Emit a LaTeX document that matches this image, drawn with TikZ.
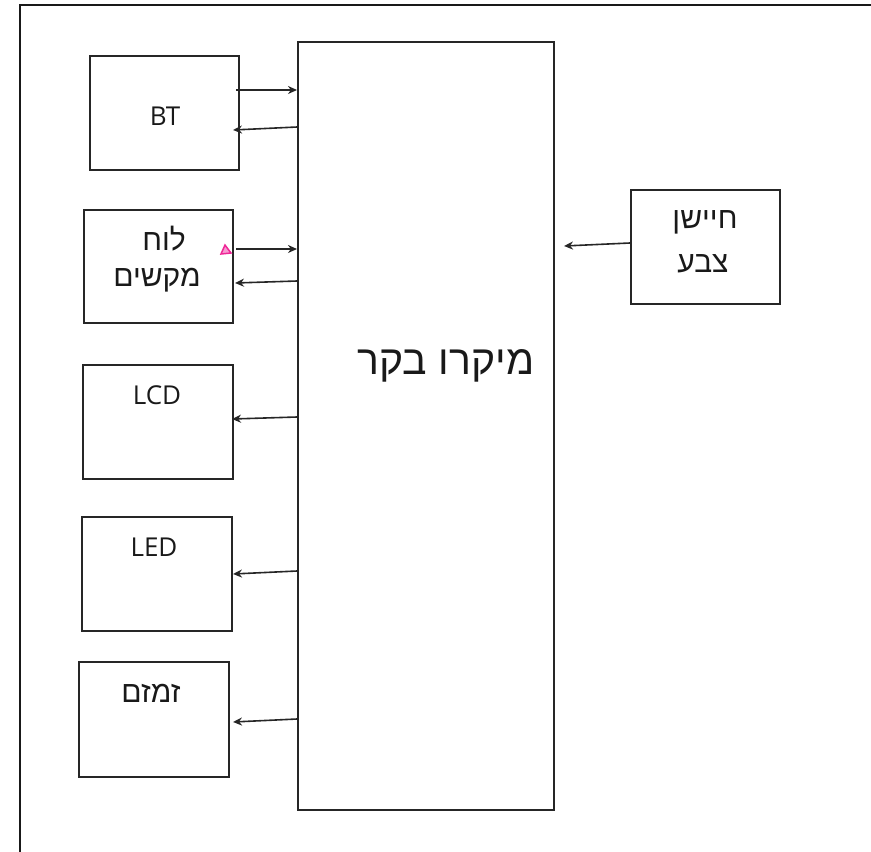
\documentclass[tikz,border=0pt]{standalone}
\usepackage{fontspec}
\usetikzlibrary{arrows.meta}
\setmainfont{Open Sans}
\newfontfamily\heb[Script=Hebrew]{Liberation Sans}
\TeXXeTstate=1
\tikzset{
  blk/.style={draw=black!85, line width=2pt, rectangle, inner sep=0pt},
  lbl/.style={text=black!90, inner sep=0pt, font=\fontsize{26}{30}\selectfont},
  hlbl/.style={text=black!90, inner sep=0pt, font=\heb\fontsize{30}{34}\selectfont},
  arr/.style={draw=black!85, line width=1.6pt, -{Stealth[length=9pt,width=8pt]}}
}
\begin{document}
\begin{tikzpicture}[x=1pt,y=-1pt]
\useasboundingbox (0,0) rectangle (871,852);
\coordinate (fb) at (20,852);
\coordinate (ftl) at (20,5);
\coordinate (ftr) at (871,5);
\draw[line width=2pt, black!90] (fb) -- (ftl) -- (ftr);

\node[blk, minimum width=256pt, minimum height=768pt] (main) at (426,426) {};
\node[blk, minimum width=149pt, minimum height=114pt] (bt) at (164.5,113) {};
\node[blk, minimum width=149pt, minimum height=113pt] (keys) at (158.5,266.5) {};
\node[blk, minimum width=150pt, minimum height=114pt] (lcd) at (158,422) {};
\node[blk, minimum width=150pt, minimum height=114pt] (led) at (157,574) {};
\node[blk, minimum width=150pt, minimum height=115pt] (buzz) at (154,719.5) {};
\node[blk, minimum width=149pt, minimum height=114pt] (sensor) at (705.5,247) {};

\node[lbl] (btt) at (165,116) {BT};
\node[hlbl] (keyst1) at (164,239) {\beginR לוח\endR};
\node[hlbl] (keyst2) at (157,280) {\beginR מקשים\endR};
\node[lbl] (lcdt) at (157,395) {LCD};
\node[lbl] (ledt) at (154,547) {LED};
\node[hlbl] (buzzt) at (151,693) {\beginR זמזם\endR};
\node[hlbl, font=\heb\fontsize{41}{45}\selectfont] (maint) at (446,366) {\beginR מיקרו בקר\endR};
\node[hlbl] (sensort1) at (705,222) {\beginR חיישן\endR};
\node[hlbl] (sensort2) at (703,264) {\beginR צבע\endR};

\draw[arr] ([shift={(-4,35)}]bt.north east) -- ([shift={(0,49)}]main.north west);
\draw[arr] ([shift={(0,86)}]main.north west) -- ([shift={(-7,75)}]bt.north east);
\draw[arr] ([shift={(2,40)}]keys.north east) -- ([shift={(0,208)}]main.north west);
\draw[arr] ([shift={(0,240)}]main.north west) -- ([shift={(1,74)}]keys.north east);
\draw[arr] ([shift={(0,376)}]main.north west) -- ([shift={(-2,55)}]lcd.north east);
\draw[arr] ([shift={(0,530)}]main.north west) -- ([shift={(0,58)}]led.north east);
\draw[arr] ([shift={(0,678)}]main.north west) -- ([shift={(3,61)}]buzz.north east);
\draw[arr] ([shift={(0,54)}]sensor.north west) -- ([shift={(9,205)}]main.north east);

\draw[magenta!80!pink, line width=1.5pt, fill=magenta!40!white] ([shift={(-9,36)}]keys.north east) -- ([shift={(-3,44)}]keys.north east) -- ([shift={(-13,45)}]keys.north east) -- cycle;
\end{tikzpicture}
\end{document}
